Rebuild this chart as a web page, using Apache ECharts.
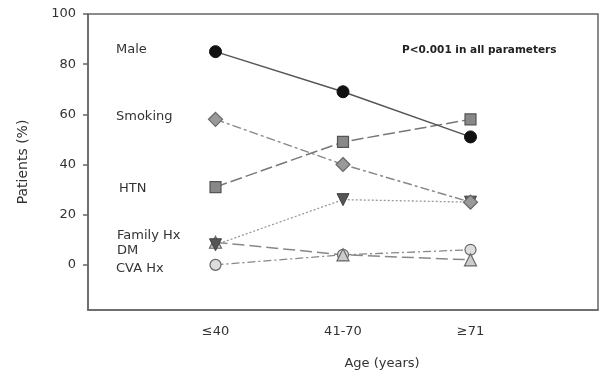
<!DOCTYPE html>
<html>
<head>
<meta charset="utf-8">
<script src="https://cdn.jsdelivr.net/npm/echarts@6/dist/echarts.min.js"></script>
<style>html,body{margin:0;padding:0;background:#fff}#c{width:600px;height:375px}</style>
</head>
<body>
<div id="c"></div>
<script>
var categories = ['≤40', '41-70', '≥71'];
var yTicks = [0, 20, 40, 60, 80, 100];
var male = [85, 69, 51];
var smoking = [58, 40, 25];
var htn = [31, 49, 58];
var familyHx = [8, 26, 25];
var dm = [9, 4, 2];
var cvaHx = [0, 4, 6];

function pts(arr) { return arr.map(function (v, i) { return [i + 1, v]; }); }

var FONT = 'DejaVu Sans';
var LBL = '13px "DejaVu Sans"';
var chart = echarts.init(document.getElementById('c'));
chart.setOption({
  animation: false,
  backgroundColor: '#fff',
  grid: { left: 88, right: 2, top: 14, bottom: 65, show: true, borderColor: '#666', borderWidth: 1.5, outerBoundsMode: 'none', containLabel: false },
  xAxis: {
    type: 'value', min: 0, max: 4,
    splitLine: { show: false },
    axisLine: { onZero: false, lineStyle: { color: '#666', width: 1.5 } },
    axisTick: { show: false },
    axisLabel: { customValues: [1, 2, 3], formatter: function (v) { return categories[v - 1]; }, margin: 15, color: '#333', fontFamily: FONT, fontSize: 13 },
    name: 'Age (years)', nameLocation: 'middle', nameGap: 47,
    nameTextStyle: { color: '#333', fontFamily: FONT, fontSize: 13, padding: [0, 0, 0, 78] }
  },
  yAxis: {
    type: 'value', min: -18, max: 100,
    splitLine: { show: false },
    axisLine: { show: true, onZero: false, lineStyle: { color: '#666', width: 1.5 } },
    axisTick: { show: true, customValues: yTicks, length: 5, lineStyle: { color: '#666', width: 1.5 } },
    axisLabel: { customValues: yTicks, margin: 12, color: '#333', fontFamily: FONT, fontSize: 13 },
    name: 'Patients (%)', nameLocation: 'middle', nameGap: 58, nameRotate: 90,
    nameTextStyle: { color: '#333', fontFamily: FONT, fontSize: 14 }
  },
  series: [
    { name: 'CVA Hx', type: 'line', data: pts(cvaHx), symbol: 'circle', symbolSize: 11,
      lineStyle: { color: '#888', width: 1.3, type: [8, 3, 2, 3] },
      itemStyle: { color: '#ddd', borderColor: '#666', borderWidth: 1.2 } },
    { name: 'DM', type: 'line', data: pts(dm), symbol: 'triangle', symbolSize: 12,
      lineStyle: { color: '#888', width: 1.5, type: [12, 5] },
      itemStyle: { color: '#ccc', borderColor: '#666', borderWidth: 1.2 } },
    { name: 'Family Hx', type: 'line', data: pts(familyHx), symbol: 'triangle', symbolRotate: 180, symbolSize: 12,
      lineStyle: { color: '#999', width: 1.3, type: [2, 2] },
      itemStyle: { color: '#555', borderColor: '#444', borderWidth: 1 } },
    { name: 'HTN', type: 'line', data: pts(htn), symbol: 'rect', symbolSize: 11,
      lineStyle: { color: '#777', width: 1.5, type: [12, 4] },
      itemStyle: { color: '#888', borderColor: '#555', borderWidth: 1.2 } },
    { name: 'Smoking', type: 'line', data: pts(smoking), symbol: 'diamond', symbolSize: 14,
      lineStyle: { color: '#888', width: 1.5, type: [9, 3, 3, 3] },
      itemStyle: { color: '#999', borderColor: '#666', borderWidth: 1.2 } },
    { name: 'Male', type: 'line', data: pts(male), symbol: 'circle', symbolSize: 12,
      lineStyle: { color: '#555', width: 1.5, type: 'solid' },
      itemStyle: { color: '#111', borderColor: '#111', borderWidth: 1 } }
  ],
  graphic: [
    { type: 'text', left: 116, top: 43, style: { text: 'Male', fill: '#333', font: LBL } },
    { type: 'text', left: 116, top: 110, style: { text: 'Smoking', fill: '#333', font: LBL } },
    { type: 'text', left: 119, top: 182, style: { text: 'HTN', fill: '#333', font: LBL } },
    { type: 'text', left: 117, top: 229, style: { text: 'Family Hx', fill: '#333', font: LBL } },
    { type: 'text', left: 117, top: 244, style: { text: 'DM', fill: '#333', font: LBL } },
    { type: 'text', left: 116, top: 262, style: { text: 'CVA Hx', fill: '#333', font: LBL } },
    { type: 'text', left: 402, top: 45, style: { text: 'P<0.001 in all parameters', fill: '#222', font: 'bold 10.5px "DejaVu Sans"' } }
  ]
});
</script>
</body>
</html>
